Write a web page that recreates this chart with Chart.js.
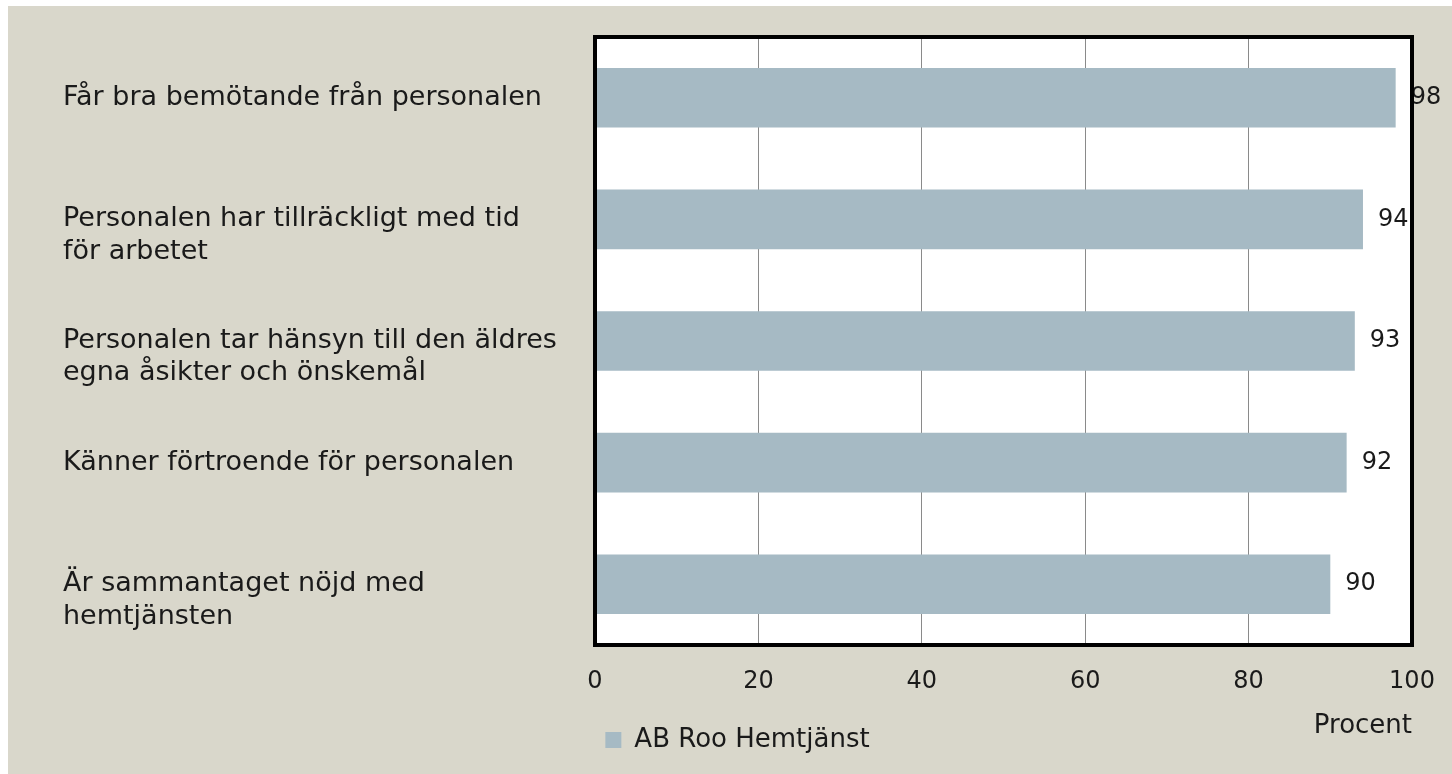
<!DOCTYPE html>
<html>
<head>
<meta charset="utf-8">
<script src="https://cdn.jsdelivr.net/npm/chart.js@4.4.1/dist/chart.umd.min.js"></script>
<style>
  html, body { margin: 0; padding: 0; background: #ffffff; }
  #wrap { position: absolute; left: 8px; top: 6px; width: 1444px; height: 768px; background: #d9d7cb; }
  canvas { display: block; }
</style>
</head>
<body>
<div id="wrap"><canvas id="chart" width="1444" height="768"></canvas></div>
<script>
// data
var categories = [
    ["Får bra bemötande från personalen"],
    ["Personalen har tillräckligt med tid", "för arbetet"],
    ["Personalen tar hänsyn till den äldres", "egna åsikter och önskemål"],
    ["Känner förtroende för personalen"],
    ["Är sammantaget nöjd med", "hemtjänsten"]
]
var values = [98, 94, 93, 92, 90]
var seriesName = "AB Roo Hemtjänst"
var xTicks = [0, 20, 40, 60, 80, 100]
var xTitle = "Procent"

var fontFam = "'DejaVu Sans'"
var fontSize = 27
var numSize = 24
var barColor = "#a6bac4"
var textColor = "#1a1a1a"

Chart.defaults.font.family = fontFam
Chart.defaults.font.size = fontSize
Chart.defaults.color = textColor

// white plot area + black frame
var framePlugin = {
    id: "frame",
    beforeDraw: function(chart) {
        var a = chart.chartArea, ctx = chart.ctx
        ctx.save()
        ctx.fillStyle = "#ffffff"
        ctx.fillRect(a.left, a.top, a.right - a.left, a.bottom - a.top)
        ctx.restore()
    },
    afterDraw: function(chart) {
        var a = chart.chartArea, ctx = chart.ctx
        ctx.save()
        ctx.strokeStyle = "#000000"
        ctx.lineWidth = 4
        ctx.strokeRect(a.left, a.top, a.right - a.left, a.bottom - a.top)
        ctx.restore()
    }
}

// value labels right of the bars
var valuePlugin = {
    id: "values",
    afterDatasetsDraw: function(chart) {
        var ctx = chart.ctx
        var meta = chart.getDatasetMeta(0)
        ctx.save()
        ctx.font = numSize + "px " + fontFam
        ctx.fillStyle = textColor
        ctx.textAlign = "left"
        ctx.textBaseline = "middle"
        meta.data.forEach(function(bar, i) {
            ctx.fillText(values[i], bar.x + 15, bar.y)
        })
        ctx.restore()
    }
}

var ctx = document.getElementById("chart").getContext("2d")
var chart = new Chart(ctx, {
    type: "bar",
    data: {
        labels: categories,
        datasets: [{
            label: seriesName,
            data: values,
            backgroundColor: barColor,
            borderWidth: 0,
            categoryPercentage: 0.49,
            barPercentage: 1
        }]
    },
    options: {
        indexAxis: "y",
        responsive: false,
        animation: false,
        layout: { padding: { left: 55, right: 40, top: 31, bottom: 11 } },
        plugins: {
            legend: {
                position: "bottom",
                labels: { boxWidth: 16, boxHeight: 16, padding: 10, color: textColor, font: { size: 26 } }
            },
            tooltip: { enabled: false }
        },
        scales: {
            x: {
                min: 0,
                max: 100,
                afterBuildTicks: function(scale) {
                    scale.ticks = xTicks.map(function(v) { return { value: v } })
                },
                afterFit: function(scale) {
                    scale.height = 72
                    scale.paddingLeft = 0
                    scale.paddingRight = 0
                },
                grid: { color: "#8a8a8a", lineWidth: 1, drawTicks: false },
                border: { display: false },
                ticks: { padding: 22, color: textColor, font: { size: numSize } },
                title: {
                    display: true,
                    text: xTitle,
                    align: "end",
                    color: textColor,
                    font: { size: 26 },
                    padding: { top: 0, bottom: -25 }
                }
            },
            y: {
                afterFit: function(scale) {
                    scale.width = 532
                    scale.paddingTop = 0
                    scale.paddingBottom = 0
                },
                grid: { display: false, drawTicks: false },
                border: { display: false },
                ticks: {
                    crossAlign: "far",
                    padding: 0,
                    color: textColor,
                    callback: function(v) {
                        var lines = this.getLabelForValue(v)
                        return lines.length > 1 ? [""].concat(lines) : lines
                    }
                }
            }
        }
    },
    plugins: [framePlugin, valuePlugin]
})
</script>
</body>
</html>
